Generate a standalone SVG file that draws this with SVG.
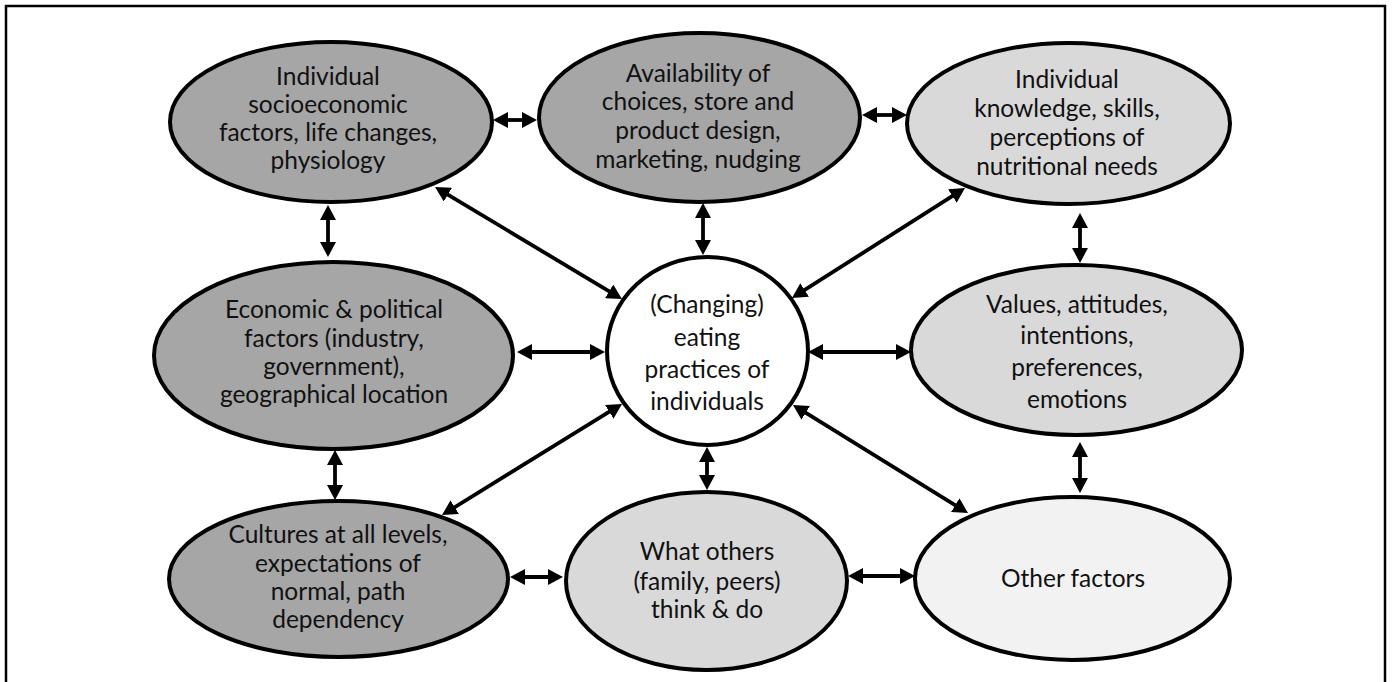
<svg xmlns="http://www.w3.org/2000/svg" width="1394" height="682" viewBox="0 0 1394 682">
<style>
.n{stroke:#000;stroke-width:4}
.dk{fill:#a6a6a6}.lt{fill:#d9d9d9}.vl{fill:#f2f2f2}.wh{fill:#fff}
text{font-family:Lato,"Open Sans","Liberation Sans",sans-serif;font-size:24.5px;fill:#111;text-anchor:middle}
.c line{stroke:#000;stroke-width:3.8;marker-start:url(#ah);marker-end:url(#ah)}
</style>
<defs>
<marker id="ah" markerUnits="userSpaceOnUse" markerWidth="15" markerHeight="16" refX="5" refY="8" orient="auto-start-reverse" viewBox="0 0 15 16">
<path d="M0,0 L15,8 L0,16 z" fill="#000"/>
</marker>
</defs>
<rect x="0" y="0" width="1394" height="682" fill="#fff"/>
<rect id="frame" x="6" y="6" width="1379" height="700" fill="none" stroke="#000" stroke-width="2.5"/>
<g class="c" id="connectors">
<line x1="503" y1="120" x2="527" y2="120"/>
<line x1="872" y1="115" x2="897" y2="115"/>
<line x1="328" y1="215" x2="328" y2="247"/>
<line x1="703" y1="213" x2="703" y2="245"/>
<line x1="1080" y1="223" x2="1080" y2="253"/>
<line x1="443.6" y1="192.1" x2="613.4" y2="293.9"/>
<line x1="956.6" y1="193.4" x2="800.4" y2="292.6"/>
<line x1="527" y1="352" x2="595" y2="352"/>
<line x1="818" y1="352" x2="901" y2="352"/>
<line x1="335" y1="460" x2="335" y2="490"/>
<line x1="707" y1="457" x2="707" y2="480"/>
<line x1="1080" y1="452" x2="1080" y2="483"/>
<line x1="613.5" y1="409.2" x2="450.5" y2="509.8"/>
<line x1="801.5" y1="410.2" x2="959.5" y2="507.8"/>
<line x1="520" y1="577" x2="553" y2="577"/>
<line x1="858" y1="576" x2="905" y2="576"/>
</g>
<g id="n1"><ellipse class="n dk" cx="331" cy="122" rx="161" ry="80"/>
<text x="328" y="85">Individual</text><text x="328" y="113">socioeconomic</text><text x="328" y="141">factors, life changes,</text><text x="328" y="169">physiology</text></g>
<g id="n2"><ellipse class="n dk" cx="699.5" cy="117.5" rx="160.5" ry="84.5"/>
<text x="698" y="82">Availability of</text><text x="698" y="110">choices, store and</text><text x="698" y="139">product design,</text><text x="698" y="168">marketing, nudging</text></g>
<g id="n3"><ellipse class="n lt" cx="1068.5" cy="123.5" rx="161.5" ry="80.5"/>
<text x="1067" y="88">Individual</text><text x="1067" y="117">knowledge, skills,</text><text x="1067" y="146">perceptions of</text><text x="1067" y="175">nutritional needs</text></g>
<g id="n4"><ellipse class="n dk" cx="333.5" cy="355.5" rx="179.5" ry="93.5"/>
<text x="334" y="318">Economic &amp; political</text><text x="334" y="347">factors (industry,</text><text x="334" y="375">government),</text><text x="334" y="403">geographical location</text></g>
<g id="center"><ellipse class="n wh" cx="707.5" cy="351" rx="100.5" ry="94"/>
<text x="707" y="313">(Changing)</text><text x="707" y="346">eating</text><text x="707" y="378">practices of</text><text x="707" y="410">individuals</text></g>
<g id="n5"><ellipse class="n lt" cx="1076.5" cy="350" rx="165.5" ry="85"/>
<text x="1077" y="313">Values, attitudes,</text><text x="1077" y="344">intentions,</text><text x="1077" y="376">preferences,</text><text x="1077" y="408">emotions</text></g>
<g id="n7"><ellipse class="n dk" cx="338.5" cy="579" rx="169.5" ry="78"/>
<text x="338" y="543">Cultures at all levels,</text><text x="338" y="572">expectations of</text><text x="338" y="600">normal, path</text><text x="338" y="628">dependency</text></g>
<g id="n8"><ellipse class="n lt" cx="706.5" cy="581" rx="140.5" ry="89"/>
<text x="707" y="560">What others</text><text x="707" y="590">(family, peers)</text><text x="707" y="618">think &amp; do</text></g>
<g id="n6"><ellipse class="n vl" cx="1072.5" cy="578.5" rx="157.5" ry="81.5"/>
<text x="1073" y="587">Other factors</text></g>
</svg>
